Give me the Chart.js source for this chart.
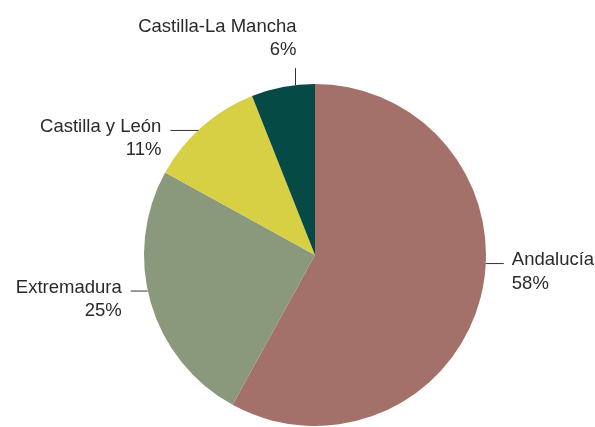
<!DOCTYPE html>
<html><head><meta charset="utf-8">
<script src="https://cdn.jsdelivr.net/npm/chart.js@4"></script>
<style>html,body{margin:0;padding:0;background:#fff}canvas{display:block}</style>
</head><body>
<canvas id="c" width="595" height="427"></canvas>
<script>
const categories = ["Andalucía", "Extremadura", "Castilla y León", "Castilla-La Mancha"];
const shares = [58, 25, 11, 6];
const valueLabels = ["58%", "25%", "11%", "6%"];
const colors = ["#A4716A", "#8A987C", "#D7D044", "#064A45"];

// label placement (angle nudge in degrees, leader direction, leader length)
const placement = [
  {shift: -11.7, dir: "right", len: 18},
  {shift: 4.2, dir: "left", len: 17},
  {shift: -1.6, dir: "left", len: 28},
  {shift: 4.2, dir: "up", len: 17}
];

const labelPlugin = {
  id: "leaderLabels",
  afterDraw(chart) {
    const ctx = chart.ctx;
    const meta = chart.getDatasetMeta(0);
    ctx.save();
    ctx.font = "18.5px 'Liberation Sans', Arial, sans-serif";
    ctx.fillStyle = "#2a2a2a";
    ctx.strokeStyle = "#333";
    ctx.lineWidth = 1;
    meta.data.forEach((arc, i) => {
      const p = arc.getProps(["x", "y", "startAngle", "endAngle", "outerRadius"], true);
      const a = (p.startAngle + p.endAngle) / 2 + placement[i].shift * Math.PI / 180;
      const ax = p.x + Math.cos(a) * p.outerRadius;
      const ay = p.y + Math.sin(a) * p.outerRadius;
      const pl = placement[i];
      ctx.beginPath();
      if (pl.dir === "right") {
        const ex = ax + pl.len;
        ctx.moveTo(ax, ay + 0.5); ctx.lineTo(ex, ay + 0.5); ctx.stroke();
        ctx.textAlign = "left";
        ctx.fillText(categories[i], ex + 8, ay + 2);
        ctx.fillText(valueLabels[i], ex + 8, ay + 26);
      } else if (pl.dir === "left") {
        const ex = ax - pl.len;
        ctx.moveTo(ax, ay + 0.5); ctx.lineTo(ex, ay + 0.5); ctx.stroke();
        ctx.textAlign = "right";
        ctx.fillText(categories[i], ex - 9, ay + 2);
        ctx.fillText(valueLabels[i], ex - 9, ay + 25);
      } else {
        const ey = ay - pl.len;
        const lx = Math.round(ax) + 0.5;
        ctx.moveTo(lx, ay); ctx.lineTo(lx, ey); ctx.stroke();
        ctx.textAlign = "right";
        ctx.fillText(categories[i], lx + 1, ey - 36);
        ctx.fillText(valueLabels[i], lx + 1, ey - 13);
      }
    });
    ctx.restore();
  }
};

new Chart(document.getElementById("c"), {
  type: "pie",
  data: {
    labels: categories,
    datasets: [{data: shares, backgroundColor: colors, borderWidth: 0}]
  },
  options: {
    responsive: false,
    animation: false,
    layout: {padding: {top: 84, bottom: 1, left: 144, right: 109}},
    plugins: {legend: {display: false}, tooltip: {enabled: false}}
  },
  plugins: [labelPlugin]
});
</script>
</body></html>
